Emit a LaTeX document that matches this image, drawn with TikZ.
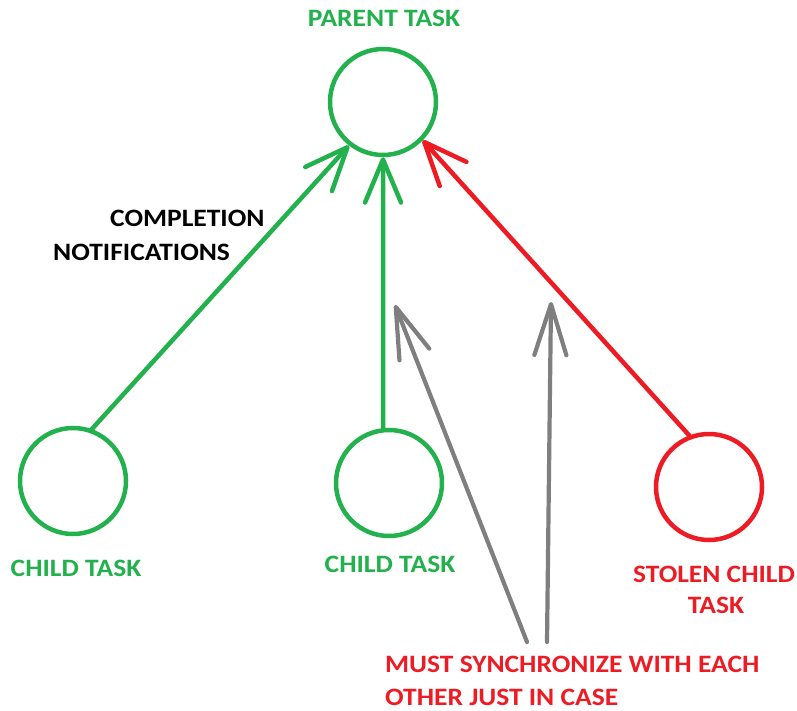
\documentclass[tikz,border=0pt]{standalone}
\usepackage{fontspec}
\setmainfont{Carlito}
\newfontfamily\lblfont[FakeStretch=1.1]{Carlito}
\usetikzlibrary{arrows.meta}
\definecolor{pgreen}{RGB}{34,177,76}
\definecolor{pred}{RGB}{237,28,36}
\definecolor{pgray}{RGB}{127,127,127}
\tikzset{
  task/.style={circle, draw=#1, line width=4.5pt, minimum size=106pt, inner sep=0pt},
  link/.style={draw=#1, line width=4.5pt, line cap=round, line join=round,
    -{Straight Barb[length=43pt,width=36pt,round]}},
  sync/.style={draw=pgray, line width=4.2pt, line cap=round, line join=round,
    -{Straight Barb[length=51pt,width=32pt,round]}},
  lbl/.style={font=\lblfont\fontsize{25}{29}\selectfont\bfseries, inner sep=0pt, text=#1},
}
\begin{document}
\begin{tikzpicture}[x=1pt,y=-1pt]
\useasboundingbox (0,0) rectangle (797,711);
\node[task=pgreen] (parent) at (383,102) {};
\node[task=pgreen] (childA) at (73,481) {};
\node[task=pgreen] (childB) at (389,483) {};
\node[task=pred] (stolen) at (709,487) {};

\draw[link=pgreen] (childA.70) -- (parent.232);
\draw[link=pgreen] (childB.96) -- (parent.270);
\draw[link=pred] (stolen.111) -- (parent.316);

\coordinate (s1) at (527,642);
\coordinate (t1) at (395,305);
\coordinate (s2) at (547,642);
\coordinate (t2) at (551,302);
\draw[sync] (s1) -- (t1);
\draw[sync] (s2) -- (t2);

\node[lbl=pgreen, anchor=base] (lp) at (384,27) {PARENT TASK};
\node[lbl=black, anchor=base west] (lc1) at (110,227) {COMPLETION};
\node[lbl=black, anchor=base west] (lc2) at (53,260) {NOTIFICATIONS};
\node[lbl=pgreen, anchor=base] (la) at (76,576) {CHILD TASK};
\node[lbl=pgreen, anchor=base] (lb) at (390,572) {CHILD TASK};
\node[lbl=pred, anchor=base] (ls1) at (714,582) {STOLEN CHILD};
\node[lbl=pred, anchor=base] (ls2) at (716,613) {TASK};
\node[lbl=pred, anchor=base west] (lm1) at (385,672) {MUST SYNCHRONIZE WITH EACH};
\node[lbl=pred, anchor=base west] (lm2) at (385,705) {OTHER JUST IN CASE};
\end{tikzpicture}
\end{document}
